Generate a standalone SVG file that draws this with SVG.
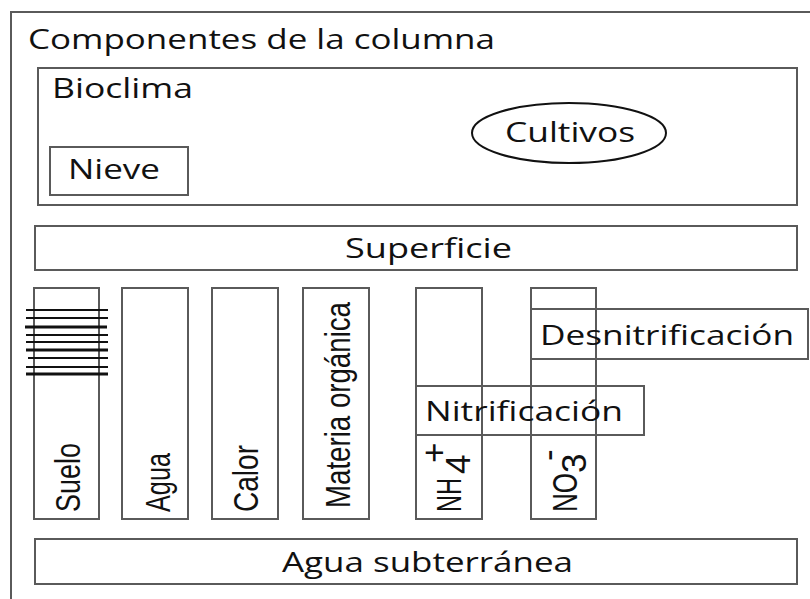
<svg xmlns="http://www.w3.org/2000/svg" width="810" height="599" viewBox="0 0 810 599">
<style>
.box{fill:none;stroke:#5a5a5a;stroke-width:2}
.t{font-family:"Open Sans","Liberation Sans",sans-serif;font-size:27px;fill:#111}
.v{font-family:"Liberation Sans",Arial,sans-serif;font-size:35px;fill:#111}
.h{stroke:#111;stroke-width:2.2}
</style>
<rect width="810" height="599" fill="#fff"/>
<g id="frame">
<path class="box" d="M830 12 H11 V620"/>
<text class="t" x="28" y="49" textLength="467" lengthAdjust="spacingAndGlyphs">Componentes de la columna</text>
</g>
<g id="bioclima">
<rect class="box" x="38" y="68" width="759" height="137"/>
<text class="t" x="52" y="98" textLength="141" lengthAdjust="spacingAndGlyphs">Bioclima</text>
</g>
<g id="nieve">
<rect class="box" x="50" y="147" width="138" height="48"/>
<text class="t" x="68" y="179" textLength="92" lengthAdjust="spacingAndGlyphs">Nieve</text>
</g>
<g id="cultivos">
<ellipse cx="569" cy="133" rx="97" ry="30" fill="none" stroke="#111" stroke-width="2"/>
<text class="t" x="505" y="142" textLength="130" lengthAdjust="spacingAndGlyphs">Cultivos</text>
</g>
<g id="superficie">
<rect class="box" x="35" y="226" width="762" height="44"/>
<text class="t" x="345" y="258" textLength="167" lengthAdjust="spacingAndGlyphs">Superficie</text>
</g>
<g id="suelo">
<rect class="box" x="34" y="288" width="65" height="231"/>
<text class="v" transform="translate(80,512) rotate(-90)" textLength="69" lengthAdjust="spacingAndGlyphs">Suelo</text>
<g class="h">
<line x1="26" y1="310" x2="108" y2="310"/>
<line x1="26" y1="318" x2="108" y2="318"/>
<line x1="25" y1="327" x2="107" y2="327" stroke-width="3"/>
<line x1="26" y1="335" x2="108" y2="335"/>
<line x1="26" y1="342" x2="108" y2="342"/>
<line x1="26" y1="350" x2="108" y2="350" stroke-width="3"/>
<line x1="28" y1="358" x2="108" y2="358"/>
<line x1="26" y1="367" x2="108" y2="367"/>
<line x1="26" y1="374" x2="108" y2="374" stroke-width="3"/>
</g>
</g>
<g id="agua">
<rect class="box" x="122" y="288" width="66" height="231"/>
<text class="v" transform="translate(170,512) rotate(-90)" textLength="59" lengthAdjust="spacingAndGlyphs">Agua</text>
</g>
<g id="calor">
<rect class="box" x="212" y="288" width="66" height="231"/>
<text class="v" transform="translate(258,512) rotate(-90)" textLength="67" lengthAdjust="spacingAndGlyphs">Calor</text>
</g>
<g id="materia">
<rect class="box" x="303" y="288" width="66" height="231"/>
<text class="v" transform="translate(350,508) rotate(-90)" textLength="206" lengthAdjust="spacingAndGlyphs">Materia orgánica</text>
</g>
<g id="nh4">
<rect class="box" x="416" y="288" width="66" height="231"/>
<text class="v" transform="translate(461,512) rotate(-90)" textLength="34" lengthAdjust="spacingAndGlyphs">NH</text>
<text class="v" transform="translate(470,474) rotate(-90)" font-size="18">4</text>
<text class="v" transform="translate(446,463) rotate(-90)" font-size="16">+</text>
</g>
<g id="no3">
<rect class="box" x="531" y="288" width="65" height="231"/>
<text class="v" transform="translate(577,512) rotate(-90)" textLength="39" lengthAdjust="spacingAndGlyphs">NO</text>
<text class="v" transform="translate(586,473) rotate(-90)" font-size="18">3</text>
<text class="v" transform="translate(560,461) rotate(-90)" font-size="12">-</text>
</g>
<g id="desnitrificacion">
<rect class="box" x="531" y="309" width="277" height="50"/>
<text class="t" x="540" y="345" textLength="254" lengthAdjust="spacingAndGlyphs">Desnitrificación</text>
</g>
<g id="nitrificacion">
<rect class="box" x="416" y="386" width="228" height="49"/>
<text class="t" x="425" y="421" textLength="198" lengthAdjust="spacingAndGlyphs">Nitrificación</text>
</g>
<g id="agua-subterranea">
<rect class="box" x="35" y="539" width="762" height="45"/>
<text class="t" x="282" y="572" textLength="291" lengthAdjust="spacingAndGlyphs">Agua subterránea</text>
</g>
<g id="connectors"></g>
</svg>
